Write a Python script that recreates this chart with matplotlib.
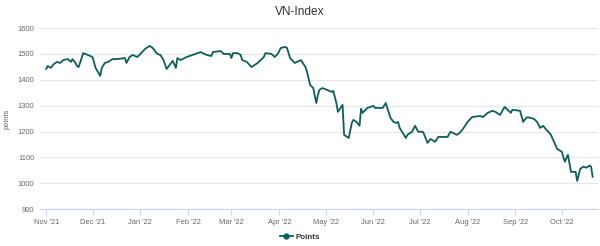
import matplotlib
matplotlib.use("Agg")
import matplotlib.pyplot as plt
import matplotlib.dates as mdates
import pandas as pd
from matplotlib.lines import Line2D

plt.rcParams['font.family'] = ['Liberation Sans', 'DejaVu Sans']

dates = [
    "2021-11-01", "2021-11-02", "2021-11-04", "2021-11-06", "2021-11-08", "2021-11-10",
    "2021-11-12", "2021-11-15", "2021-11-17", "2021-11-18", "2021-11-20", "2021-11-21",
    "2021-11-22", "2021-11-25", "2021-11-28", "2021-12-01", "2021-12-03", "2021-12-06",
    "2021-12-07", "2021-12-09", "2021-12-11", "2021-12-14", "2021-12-17", "2021-12-22",
    "2021-12-23", "2021-12-25", "2021-12-27", "2021-12-30", "2022-01-01", "2022-01-04",
    "2022-01-07", "2022-01-09", "2022-01-11", "2022-01-12", "2022-01-14", "2022-01-16",
    "2022-01-18", "2022-01-22", "2022-01-24", "2022-01-25", "2022-01-27", "2022-01-31",
    "2022-02-09", "2022-02-13", "2022-02-16", "2022-02-17", "2022-02-22", "2022-02-24",
    "2022-02-28", "2022-03-01", "2022-03-02", "2022-03-05", "2022-03-07", "2022-03-08",
    "2022-03-11", "2022-03-14", "2022-03-18", "2022-03-22", "2022-03-23", "2022-03-27",
    "2022-03-29", "2022-03-31", "2022-04-02", "2022-04-05", "2022-04-06", "2022-04-08",
    "2022-04-11", "2022-04-15", "2022-04-18", "2022-04-19", "2022-04-21", "2022-04-23",
    "2022-04-25", "2022-04-26", "2022-04-27", "2022-04-29", "2022-05-05", "2022-05-06",
    "2022-05-08", "2022-05-09", "2022-05-12", "2022-05-13", "2022-05-16", "2022-05-18",
    "2022-05-19", "2022-05-21", "2022-05-23", "2022-05-24", "2022-05-25", "2022-05-28",
    "2022-06-01", "2022-06-02", "2022-06-07", "2022-06-09", "2022-06-12", "2022-06-14",
    "2022-06-16", "2022-06-17", "2022-06-18", "2022-06-22", "2022-06-23", "2022-06-26",
    "2022-06-28", "2022-06-30", "2022-07-03", "2022-07-04", "2022-07-06", "2022-07-08",
    "2022-07-11", "2022-07-13", "2022-07-16", "2022-07-19", "2022-07-21", "2022-07-25",
    "2022-07-27", "2022-07-29", "2022-08-01", "2022-08-04", "2022-08-09", "2022-08-11",
    "2022-08-14", "2022-08-17", "2022-08-19", "2022-08-22", "2022-08-25", "2022-08-29",
    "2022-08-30", "2022-09-04", "2022-09-06", "2022-09-08", "2022-09-09", "2022-09-13",
    "2022-09-15", "2022-09-17", "2022-09-19", "2022-09-20", "2022-09-24", "2022-09-26",
    "2022-09-28", "2022-10-01", "2022-10-03", "2022-10-05", "2022-10-07", "2022-10-10",
    "2022-10-11", "2022-10-13", "2022-10-15", "2022-10-17", "2022-10-19", "2022-10-20",
    "2022-10-21",
]

points = [
    1442, 1453, 1446, 1461, 1469, 1465,
    1476, 1480, 1469, 1480, 1465, 1453,
    1449, 1503, 1496, 1488, 1446, 1415,
    1446, 1465, 1469, 1480, 1480, 1484,
    1465, 1488, 1496, 1488, 1500, 1519,
    1531, 1523, 1507, 1500, 1496, 1476,
    1442, 1473, 1446, 1484, 1476, 1488,
    1507, 1496, 1492, 1507, 1511, 1500,
    1500, 1484, 1503, 1503, 1496, 1476,
    1469, 1449, 1465, 1488, 1503, 1500,
    1488, 1500, 1523, 1527, 1523, 1484,
    1465, 1476, 1449, 1430, 1380, 1368,
    1310, 1341, 1361, 1368, 1353, 1357,
    1310, 1276, 1303, 1187, 1175, 1233,
    1245, 1237, 1222, 1288, 1272, 1291,
    1299, 1291, 1291, 1310, 1253, 1237,
    1233, 1237, 1214, 1175, 1187, 1199,
    1222, 1199, 1199, 1187, 1156, 1171,
    1160, 1179, 1179, 1179, 1199, 1187,
    1195, 1210, 1237, 1256, 1260, 1256,
    1272, 1280, 1276, 1264, 1295, 1272,
    1284, 1280, 1237, 1253, 1255, 1249,
    1237, 1214, 1222, 1214, 1187, 1160,
    1133, 1122, 1083, 1110, 1044, 1044,
    1009, 1056, 1064, 1060, 1068, 1064,
    1025,
]

title = "VN-Index"
y_title = "points"
series_name = "Points"
y_ticks = [900, 1000, 1100, 1200, 1300, 1400, 1500, 1600]

x = pd.to_datetime(dates)
line_color = "#0e5e5a"

fig = plt.figure(figsize=(6.0, 2.46), dpi=100)
ax = fig.add_axes([0.0667, 0.150, 0.930, 0.736])

ax.plot(x, points, color=line_color, lw=1.3, solid_joinstyle='round')

ax.set_ylim(900, 1600)
ax.set_yticks(y_ticks)
ax.set_xlim(pd.Timestamp("2021-10-28"), pd.Timestamp("2022-10-24 12:00"))
ax.xaxis.set_major_locator(mdates.MonthLocator())
ax.xaxis.set_major_formatter(mdates.DateFormatter("%b '%y"))

ax.grid(axis='y', color='#e6e6e6', lw=0.8)
ax.set_axisbelow(True)
for s in ['top', 'right', 'left']:
    ax.spines[s].set_visible(False)
ax.spines['bottom'].set_color('#ccd6eb')
ax.spines['bottom'].set_linewidth(0.8)

ax.tick_params(axis='y', length=0, labelsize=5.4, labelcolor='#666666', pad=4)
ax.tick_params(axis='x', length=4, width=0.8, color='#ccd6eb', labelsize=5.4,
               labelcolor='#666666', pad=3)

ax.set_ylabel(y_title, fontsize=5.4, color='#666666', labelpad=5)
fig.text(0.5, 0.95, title, ha='center', va='center', fontsize=8.6, color='#333333')

handle = Line2D([0], [0], color=line_color, lw=1.3, marker='o', markersize=3.5)
fig.legend([handle], [series_name], loc='center', bbox_to_anchor=(0.5, 0.035),
           frameon=False, prop={'size': 5.8, 'weight': 'bold'}, handlelength=1.6,
           labelcolor='#333333', handletextpad=0.4)

fig.savefig("out.png", dpi=100)
